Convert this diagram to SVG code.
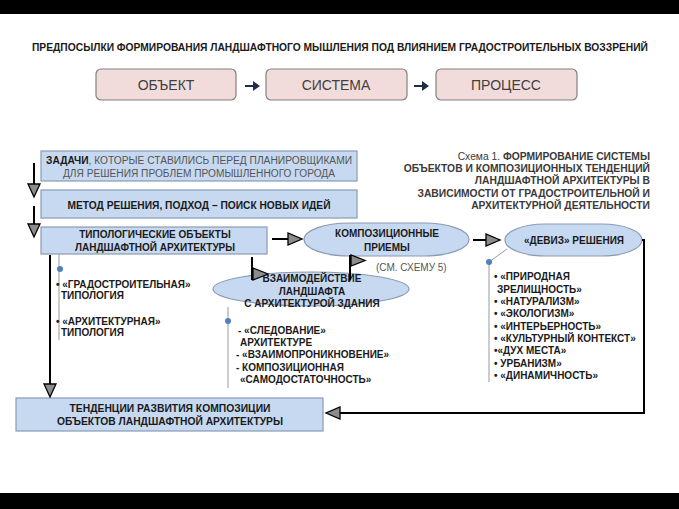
<svg xmlns="http://www.w3.org/2000/svg" width="679" height="509" viewBox="0 0 679 509">
<defs>
<style>
.t{font-family:"Liberation Sans",Arial,sans-serif;font-weight:bold;font-size:10px;fill:#1a1a1a}
.g{fill:#555}
.n{font-weight:normal}
.pk{fill:#f2dcdb;stroke:#808080;stroke-width:1.2}
.bl{fill:#c6d9f1;stroke:#8a9ab5;stroke-width:1.2}
.big{font-family:"Liberation Sans",Arial,sans-serif;font-size:14px;fill:#404040}
.ln{fill:none;stroke:#000;stroke-width:2}
.gl{fill:none;stroke:#999;stroke-width:1}
.ah{fill:#8c8c8c;stroke:#000;stroke-width:1.3}
.dot{fill:#4f81bd}
</style>
</defs>
<rect x="0" y="0" width="679" height="509" fill="#fff"/>
<rect x="0" y="0" width="679" height="14" fill="#000"/>
<rect x="0" y="493" width="679" height="16" fill="#000"/>
<text class="t" x="340" y="51" text-anchor="middle" font-size="9.5" textLength="616" lengthAdjust="spacingAndGlyphs">ПРЕДПОСЫЛКИ ФОРМИРОВАНИЯ ЛАНДШАФТНОГО МЫШЛЕНИЯ ПОД ВЛИЯНИЕМ ГРАДОСТРОИТЕЛЬНЫХ ВОЗЗРЕНИЙ</text>
<g id="obj"><rect class="pk" x="96" y="69" width="140" height="31" rx="5"/><text class="big" x="166" y="90" text-anchor="middle">ОБЪЕКТ</text></g>
<g id="sys"><rect class="pk" x="266" y="69" width="141" height="31" rx="5"/><text class="big" x="336" y="90" text-anchor="middle">СИСТЕМА</text></g>
<g id="proc"><rect class="pk" x="436" y="69" width="141" height="31" rx="5"/><text class="big" x="506" y="90" text-anchor="middle">ПРОЦЕСС</text></g>
<g id="zadachi"><rect class="bl" x="41" y="151" width="316" height="30"/>
<text class="t" x="199" y="164" text-anchor="middle" textLength="306" lengthAdjust="spacingAndGlyphs"><tspan>ЗАДАЧИ</tspan><tspan class="g n">, КОТОРЫЕ СТАВИЛИСЬ ПЕРЕД ПЛАНИРОВЩИКАМИ</tspan></text>
<text class="t g n" x="199" y="177" text-anchor="middle" textLength="272" lengthAdjust="spacingAndGlyphs">ДЛЯ РЕШЕНИЯ ПРОБЛЕМ ПРОМЫШЛЕННОГО ГОРОДА</text></g>
<g id="metod"><rect class="bl" x="41" y="190" width="316" height="28"/><text class="t" x="199" y="209" text-anchor="middle" textLength="263" lengthAdjust="spacingAndGlyphs">МЕТОД РЕШЕНИЯ, ПОДХОД – ПОИСК НОВЫХ ИДЕЙ</text></g>
<g id="tipol"><rect class="bl" x="41" y="227" width="226" height="27"/><text class="t" x="155" y="238" text-anchor="middle">ТИПОЛОГИЧЕСКИЕ ОБЪЕКТЫ</text><text class="t" x="155" y="251" text-anchor="middle">ЛАНДШАФТНОЙ АРХИТЕКТУРЫ</text></g>
<g id="komp"><rect class="bl" x="304" y="223" width="165" height="33" rx="45" ry="16.5"/><text class="t" x="387" y="237" text-anchor="middle">КОМПОЗИЦИОННЫЕ</text><text class="t" x="387" y="251" text-anchor="middle">ПРИЕМЫ</text></g>
<g id="deviz"><rect class="bl" x="505" y="224" width="137" height="32" rx="40" ry="16"/><text class="t" x="574" y="244" text-anchor="middle">«ДЕВИЗ» РЕШЕНИЯ</text></g>
<g id="vzaim"><ellipse class="bl" cx="311" cy="289" rx="98" ry="17"/><text class="t" x="312" y="282" text-anchor="middle">ВЗАИМОДЕЙСТВИЕ</text><text class="t" x="312" y="295" text-anchor="middle">ЛАНДШАФТА</text><text class="t" x="312" y="307" text-anchor="middle">С АРХИТЕКТУРОЙ ЗДАНИЯ</text></g>
<g id="tend"><rect class="bl" x="16" y="398" width="307" height="33"/><text class="t" x="170" y="412" text-anchor="middle" textLength="201" lengthAdjust="spacingAndGlyphs">ТЕНДЕНЦИИ РАЗВИТИЯ КОМПОЗИЦИИ</text><text class="t" x="170" y="425" text-anchor="middle" textLength="226" lengthAdjust="spacingAndGlyphs">ОБЪЕКТОВ ЛАНДШАФТНОЙ АРХИТЕКТУРЫ</text></g>
<g id="schema"><text class="t" style="fill:#3a3a3a;font-size:10.3px" text-anchor="end"><tspan x="650" y="160"><tspan class="n">Схема 1.</tspan> ФОРМИРОВАНИЕ СИСТЕМЫ</tspan><tspan x="650" y="172">ОБЪЕКТОВ И КОМПОЗИЦИОННЫХ  ТЕНДЕНЦИЙ</tspan><tspan x="650" y="184">ЛАНДШАФТНОЙ АРХИТЕКТУРЫ В</tspan><tspan x="650" y="197">ЗАВИСИМОСТИ ОТ ГРАДОСТРОИТЕЛЬНОЙ И</tspan><tspan x="650" y="209">АРХИТЕКТУРНОЙ ДЕЯТЕЛЬНОСТИ</tspan></text></g>
<g id="sm5"><text class="t g n" x="376" y="271" font-size="10.5">(СМ. СХЕМУ 5)</text></g>
<g id="list-tipol"><line class="gl" x1="59" y1="254" x2="59" y2="340"/><circle class="dot" cx="60" cy="269" r="3"/>
<text class="t"><tspan x="56" y="288">• «ГРАДОСТРОИТЕЛЬНАЯ»</tspan><tspan x="61" y="299">ТИПОЛОГИЯ</tspan><tspan x="56" y="325">• «АРХИТЕКТУРНАЯ»</tspan><tspan x="61" y="336">ТИПОЛОГИЯ</tspan></text></g>
<g id="list-vzaim"><line class="gl" x1="228" y1="307" x2="228" y2="388"/><circle class="dot" cx="228" cy="321" r="3"/>
<text class="t"><tspan x="238" y="334"> - «СЛЕДОВАНИЕ»</tspan><tspan x="240" y="346">АРХИТЕКТУРЕ</tspan><tspan x="236" y="358">-  «ВЗАИМОПРОНИКНОВЕНИЕ»</tspan><tspan x="236" y="371">- КОМПОЗИЦИОННАЯ</tspan><tspan x="240" y="383">«САМОДОСТАТОЧНОСТЬ»</tspan></text></g>
<g id="list-deviz"><line class="gl" x1="489" y1="262" x2="507" y2="249"/><line class="gl" x1="489" y1="262" x2="489" y2="382"/><circle class="dot" cx="489" cy="262" r="3"/>
<text class="t"><tspan x="494" y="280">• «ПРИРОДНАЯ</tspan><tspan x="497" y="293">ЗРЕЛИЩНОСТЬ»</tspan><tspan x="494" y="305">• «НАТУРАЛИЗМ»</tspan><tspan x="494" y="317">• «ЭКОЛОГИЗМ»</tspan><tspan x="494" y="330">• «ИНТЕРЬЕРНОСТЬ»</tspan><tspan x="494" y="342">• «КУЛЬТУРНЫЙ КОНТЕКСТ»</tspan><tspan x="494" y="354">•«ДУХ МЕСТА»</tspan><tspan x="494" y="367">• УРБАНИЗМ»</tspan><tspan x="494" y="379">• «ДИНАМИЧНОСТЬ»</tspan></text></g>
<g id="connectors">
<path d="M245 86H255" stroke="#1f2d4a" stroke-width="2" fill="none"/><path d="M253 81L260 86L253 91z" fill="#1f2d4a"/>
<path d="M414 86H424" stroke="#1f2d4a" stroke-width="2" fill="none"/><path d="M422 81L429 86L422 91z" fill="#1f2d4a"/>
<path class="ln" d="M34 163V184"/><path class="ah" d="M28 184L40 184L34 197z"/>
<path class="ln" d="M34 206V224"/><path class="ah" d="M28 224L40 224L34 237z"/>
<path class="ln" d="M50 255V384"/><path class="ah" d="M44 384L56 384L50 397z"/>
<path class="ln" d="M272 239H289"/><path class="ah" d="M288 233L288 245L302 239z"/>
<path class="ln" d="M473 240H487"/><path class="ah" d="M486 234L486 246L500 240z"/>
<path class="ln" d="M252 257V280"/><path class="ah" d="M253 268L253 280L268 274z"/>
<path class="ln" d="M350 280V255"/><path class="ah" d="M351 255L351 266L365 260.5z"/>
<path class="ln" d="M642 240H644V413H340"/><path class="ah" d="M340 407L340 419L326 413z"/>
</g>
</svg>
